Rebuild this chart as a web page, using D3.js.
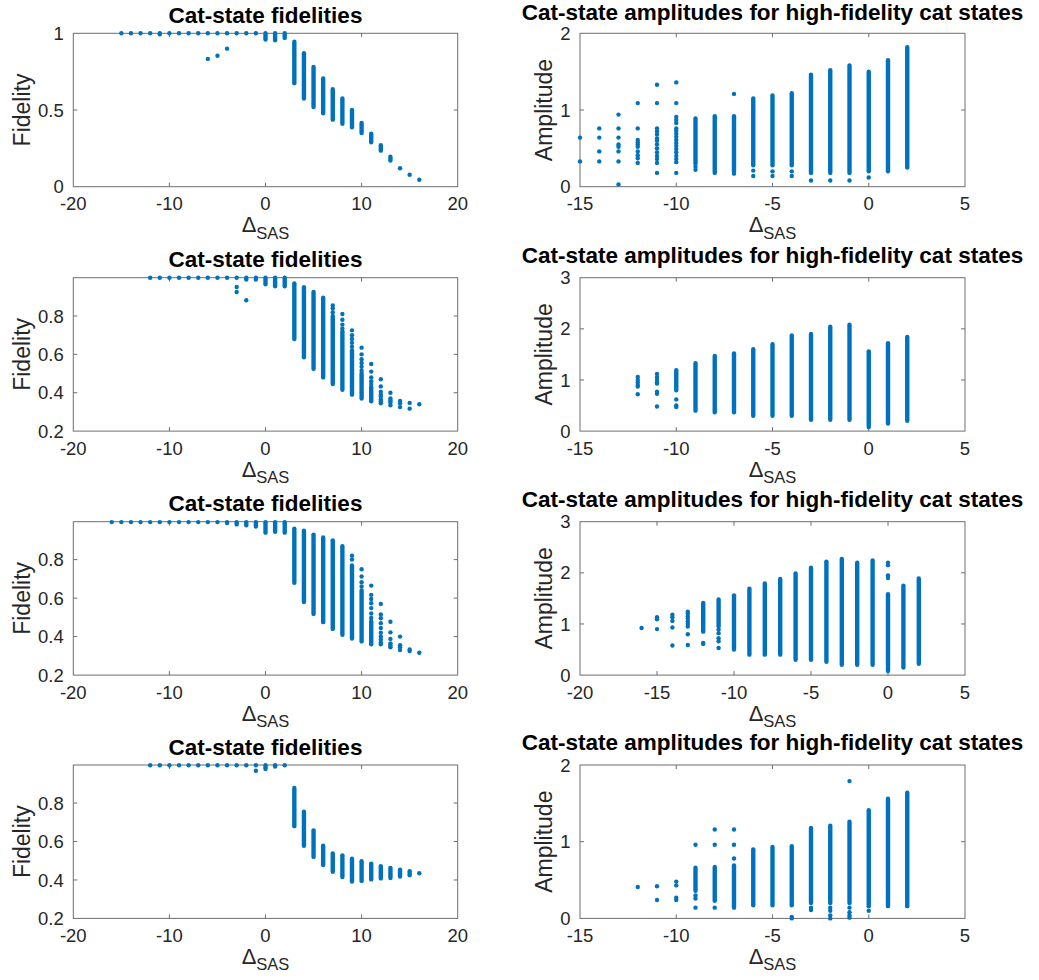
<!DOCTYPE html>
<html>
<head>
<meta charset="utf-8">
<script src="https://cdn.jsdelivr.net/npm/d3@7"></script>
<style>
  body { margin: 0; background: #fff; }
  svg { display: block; font-family: "Liberation Sans", Arial, Helvetica, sans-serif; }
</style>
</head>
<body>
<svg id="fig" width="1039" height="980"></svg>
<script>
// ---- Data: fidelity panels (left column) ----
// dots: [Δ_SAS, [fidelity values]] ; strips: dense runs [Δ_SAS, low, high]
const fidDots1 = [
  [-15, [1]], [-14, [1]], [-13, [1]], [-12, [1]], [-11, [1, 0.993]], [-10, [1]], [-9, [1]],
  [-8, [1]], [-7, [1]], [-6, [1, 0.833]], [-5, [1, 0.854]], [-4, [1, 0.9]], [-3, [1]],
  [-2, [1]], [-1, [1]], [14, [0.12]], [15, [0.078]], [16, [0.045]]
];
const fidStrips1 = [
  [0, 0.96, 1], [1, 0.955, 1], [2, 0.97, 1], [3, 0.675, 0.945], [4, 0.575, 0.87],
  [5, 0.52, 0.78], [6, 0.478, 0.705], [7, 0.437, 0.635], [8, 0.41, 0.575], [9, 0.388, 0.5],
  [10, 0.35, 0.415], [11, 0.29, 0.345], [12, 0.235, 0.27], [13, 0.17, 0.195]
];

const fidDots2 = [
  [-12, [0.999]], [-11, [0.999]], [-10, [0.999]], [-9, [0.999]], [-8, [0.999]], [-7, [0.999]],
  [-6, [0.999]], [-5, [0.999]], [-4, [0.999]], [-3, [0.999, 0.951, 0.925]],
  [-2, [0.999, 0.99, 0.882]], [-1, [0.999, 0.99]],
  [7, [0.855, 0.84, 0.82]], [8, [0.81, 0.78, 0.755, 0.735]], [9, [0.725, 0.7, 0.68, 0.66, 0.64]],
  [10, [0.635, 0.6, 0.575, 0.555, 0.535, 0.515]], [11, [0.55, 0.51, 0.48, 0.46, 0.445]],
  [12, [0.47, 0.433, 0.405, 0.39, 0.38, 0.365, 0.355, 0.345]], [13, [0.4, 0.37, 0.36, 0.35, 0.335]],
  [14, [0.357, 0.345, 0.325]], [15, [0.347, 0.317]], [16, [0.34]]
];
const fidStrips2 = [
  [0, 0.965, 0.999], [1, 0.955, 0.999], [2, 0.955, 0.999], [3, 0.68, 0.97], [4, 0.585, 0.95],
  [5, 0.525, 0.925], [6, 0.48, 0.895], [7, 0.445, 0.8], [8, 0.415, 0.72], [9, 0.39, 0.62],
  [10, 0.37, 0.5], [11, 0.355, 0.43]
];

const fidDots3 = [
  [-16, [0.995]], [-15, [0.995]], [-14, [0.995]], [-13, [0.995]], [-12, [0.995]], [-11, [0.995]],
  [-10, [0.995]], [-9, [0.995]], [-8, [0.995]], [-7, [0.995]], [-6, [0.995]], [-5, [0.995]],
  [9, [0.82, 0.8]], [10, [0.75, 0.712, 0.683, 0.66]],
  [11, [0.665, 0.617, 0.595, 0.573, 0.548, 0.52, 0.497]],
  [12, [0.57, 0.515, 0.495, 0.47, 0.445, 0.42, 0.4, 0.385, 0.37, 0.36]],
  [13, [0.477, 0.422, 0.388, 0.365, 0.355, 0.345]], [14, [0.4, 0.355, 0.345, 0.33]],
  [15, [0.333, 0.325]], [16, [0.316]]
];
const fidStrips3 = [
  [-4, 0.99, 0.995], [-3, 0.983, 0.995], [-2, 0.978, 0.995], [-1, 0.972, 0.995],
  [0, 0.94, 0.995], [1, 0.945, 0.995], [2, 0.94, 0.995], [3, 0.68, 0.96], [4, 0.58, 0.95],
  [5, 0.518, 0.93], [6, 0.475, 0.915], [7, 0.44, 0.9], [8, 0.41, 0.87], [9, 0.39, 0.77],
  [10, 0.375, 0.64], [11, 0.36, 0.48]
];

const fidDots4 = [
  [-12, [0.997]], [-11, [0.997]], [-10, [0.997]], [-9, [0.997]], [-8, [0.997]], [-7, [0.997]],
  [-6, [0.997]], [-5, [0.997]], [-4, [0.997]], [-3, [0.997]], [-2, [0.997]], [-1, [0.997, 0.968]],
  [2, [0.997]], [16, [0.435]]
];
const fidStrips4 = [
  [0, 0.977, 0.997], [1, 0.99, 0.997], [3, 0.68, 0.878], [4, 0.578, 0.755], [5, 0.52, 0.658],
  [6, 0.478, 0.578], [7, 0.443, 0.538], [8, 0.415, 0.528], [9, 0.392, 0.51], [10, 0.395, 0.497],
  [11, 0.403, 0.485], [12, 0.408, 0.472], [13, 0.41, 0.463], [14, 0.418, 0.453], [15, 0.425, 0.446]
];

// ---- Data: amplitude panels (right column) ----
const ampDots1 = [
  [-15, [0.64, 0.33]], [-14, [0.76, 0.64, 0.46, 0.33]],
  [-13, [0.94, 0.76, 0.64, 0.55, 0.52, 0.46, 0.33, 0.03]],
  [-12, [1.09, 0.76, 0.61, 0.58, 0.55, 0.52, 0.46, 0.41, 0.37, 0.31]],
  [-11, [1.33, 1.09, 0.76, 0.72, 0.68, 0.63, 0.6, 0.55, 0.5, 0.45, 0.4, 0.36, 0.31, 0.18]],
  [-10, [1.36, 1.09, 0.91, 0.87, 0.83, 0.76, 0.73, 0.69, 0.65, 0.61, 0.57, 0.53, 0.49, 0.45, 0.4, 0.36, 0.32, 0.18]],
  [-9, [0.26, 0.22]], [-8, [0.18]], [-7, [1.21, 0.17]], [-6, [0.21, 0.14]], [-5, [0.2, 0.14]],
  [-4, [0.2, 0.14]], [-3, [0.08]], [-2, [0.08]], [-1, [0.08]], [0, [0.12]]
];
const ampStrips1 = [
  [-9, 0.3, 0.89], [-8, 0.2, 0.92], [-7, 0.2, 0.92], [-6, 0.28, 1.15], [-5, 0.28, 1.19],
  [-4, 0.28, 1.22], [-3, 0.18, 1.46], [-2, 0.18, 1.52], [-1, 0.18, 1.58], [0, 0.2, 1.5],
  [1, 0.2, 1.65], [2, 0.25, 1.82]
];

const ampDots2 = [
  [-12, [1.06, 1.0, 0.95, 0.9, 0.87, 0.72]],
  [-11, [1.12, 1.06, 1.0, 0.95, 0.93, 0.77, 0.73, 0.48]],
  [-10, [0.62, 0.5, 0.47]]
];
const ampStrips2 = [
  [-10, 0.8, 1.19], [-9, 0.4, 1.33], [-8, 0.37, 1.47], [-7, 0.37, 1.52], [-6, 0.3, 1.6],
  [-5, 0.3, 1.7], [-4, 0.3, 1.87], [-3, 0.22, 1.9], [-2, 0.22, 2.04], [-1, 0.22, 2.08],
  [0, 0.08, 1.56], [1, 0.15, 1.72], [2, 0.2, 1.84]
];

const ampDots3 = [
  [-16, [0.92]], [-15, [1.13, 1.09, 0.9]], [-14, [1.18, 1.13, 1.06, 0.93, 0.58]],
  [-13, [1.24, 1.2, 1.15, 1.1, 1.05, 1.0, 0.95, 0.8, 0.59]], [-12, [0.63, 0.61]],
  [-11, [0.89, 0.82, 0.72, 0.66, 0.53]], [0, [2.2, 2.15, 1.95, 1.9]]
];
const ampStrips3 = [
  [-12, 0.85, 1.41], [-11, 0.95, 1.48], [-10, 0.5, 1.56], [-9, 0.4, 1.69], [-8, 0.4, 1.79],
  [-7, 0.4, 1.88], [-6, 0.3, 1.99], [-5, 0.3, 2.1], [-4, 0.26, 2.22], [-3, 0.2, 2.27],
  [-2, 0.2, 2.2], [-1, 0.2, 2.24], [0, 0.08, 1.58], [1, 0.15, 1.75], [2, 0.22, 1.89]
];

const ampDots4 = [
  [-12, [0.41]], [-11, [0.42, 0.24]], [-10, [0.48, 0.43, 0.27, 0.24]],
  [-9, [0.96, 0.3, 0.26, 0.14]], [-8, [1.16, 0.96, 0.14]], [-7, [1.16, 0.96, 0.78]],
  [-4, [0.02, 0.0]], [-3, [0.14, 0.11]], [-2, [0.14, 0.1, 0.04, 0.0]],
  [-1, [1.79, 0.14, 0.08, 0.04, 0.01]], [0, [0.1]]
];
const ampStrips4 = [
  [-9, 0.36, 0.66], [-8, 0.23, 0.67], [-7, 0.14, 0.69], [-6, 0.17, 0.9], [-5, 0.17, 0.93],
  [-4, 0.17, 0.94], [-3, 0.2, 1.18], [-2, 0.2, 1.21], [-1, 0.2, 1.26], [0, 0.16, 1.41],
  [1, 0.16, 1.56], [2, 0.16, 1.64]
];

// ---- Axis limits and tick labels ----
const fidXTicks = [-20, -10, 0, 10, 20];
const fidYTicksA = [0, 0.5, 1];
const fidYTicksB = [0.2, 0.4, 0.6, 0.8];
const ampXTicksA = [-15, -10, -5, 0, 5];
const ampXTicksB = [-20, -15, -10, -5, 0, 5];
const ampYTicks2 = [0, 1, 2];
const ampYTicks3 = [0, 1, 2, 3];

const titles = ["Cat-state fidelities", "Cat-state amplitudes for high-fidelity cat states"];
const yLabels = ["Fidelity", "Amplitude"];

// ---- Layout ----
const rowTop = [33.3, 277.7, 521.7, 765];
const plotH = 153.4;
const colX = [[73.3, 457.7], [580, 965]];
const yLabelX = [29.5, 551.5];
// title baseline distance above each axes box (right-hand titles sit higher)
const titleGap = (r, c) => c === 0 ? 10.5 : (r === 0 ? 13 : 15);
const markColor = "#0072BD";
const axisColor = "#6e6e6e";
const textColor = "#262626";

const panels = [
  { r: 0, c: 0, xd: [-20, 20], yd: [0, 1], xt: fidXTicks, yt: fidYTicksA, dots: fidDots1, strips: fidStrips1 },
  { r: 0, c: 1, xd: [-15, 5], yd: [0, 2], xt: ampXTicksA, yt: ampYTicks2, dots: ampDots1, strips: ampStrips1 },
  { r: 1, c: 0, xd: [-20, 20], yd: [0.2, 0.9995], xt: fidXTicks, yt: fidYTicksB, dots: fidDots2, strips: fidStrips2 },
  { r: 1, c: 1, xd: [-15, 5], yd: [0, 3], xt: ampXTicksA, yt: ampYTicks3, dots: ampDots2, strips: ampStrips2 },
  { r: 2, c: 0, xd: [-20, 20], yd: [0.2, 0.997], xt: fidXTicks, yt: fidYTicksB, dots: fidDots3, strips: fidStrips3 },
  { r: 2, c: 1, xd: [-20, 5], yd: [0, 3], xt: ampXTicksB, yt: ampYTicks3, dots: ampDots3, strips: ampStrips3 },
  { r: 3, c: 0, xd: [-20, 20], yd: [0.2, 0.998], xt: fidXTicks, yt: fidYTicksB, dots: fidDots4, strips: fidStrips4 },
  { r: 3, c: 1, xd: [-15, 5], yd: [0, 2], xt: ampXTicksA, yt: ampYTicks2, dots: ampDots4, strips: ampStrips4 }
];

const svg = d3.select("#fig");
const tickLen = 4;

panels.forEach(p => {
  const x0 = colX[p.c][0], x1 = colX[p.c][1];
  const y0 = rowTop[p.r], y1 = rowTop[p.r] + plotH;
  const xs = d3.scaleLinear().domain(p.xd).range([x0, x1]);
  const ys = d3.scaleLinear().domain(p.yd).range([y1, y0]);
  const g = svg.append("g");

  // box
  g.append("rect").attr("x", x0).attr("y", y0).attr("width", x1 - x0).attr("height", y1 - y0)
    .attr("fill", "none").attr("stroke", axisColor).attr("stroke-width", 1);

  // inward ticks, mirrored on all four sides
  p.xt.filter(v => v > p.xd[0] && v < p.xd[1]).forEach(v => {
    g.append("line").attr("x1", xs(v)).attr("x2", xs(v)).attr("y1", y1).attr("y2", y1 - tickLen)
      .attr("stroke", axisColor);
    g.append("line").attr("x1", xs(v)).attr("x2", xs(v)).attr("y1", y0).attr("y2", y0 + tickLen)
      .attr("stroke", axisColor);
  });
  p.yt.filter(v => v > p.yd[0] && v < p.yd[1]).forEach(v => {
    g.append("line").attr("x1", x0).attr("x2", x0 + tickLen).attr("y1", ys(v)).attr("y2", ys(v))
      .attr("stroke", axisColor);
    g.append("line").attr("x1", x1).attr("x2", x1 - tickLen).attr("y1", ys(v)).attr("y2", ys(v))
      .attr("stroke", axisColor);
  });

  // tick labels
  g.selectAll(".xl").data(p.xt).enter().append("text")
    .attr("x", d => xs(d)).attr("y", y1 + 23.5)
    .attr("text-anchor", "middle").attr("font-size", 18.5).attr("fill", textColor)
    .text(d => String(d));
  g.selectAll(".yl").data(p.yt).enter().append("text")
    .attr("x", x0 - 9.5).attr("y", d => ys(d)).attr("dy", "0.36em")
    .attr("text-anchor", "end").attr("font-size", 18.5).attr("fill", textColor)
    .text(d => String(d));

  // title
  g.append("text").attr("x", (x0 + x1) / 2).attr("y", y0 - titleGap(p.r, p.c))
    .attr("text-anchor", "middle").attr("font-size", 22.5).attr("font-weight", "bold")
    .attr("fill", "#000").text(titles[p.c]);

  // y label
  g.append("text").attr("transform", `translate(${yLabelX[p.c]},${(y0 + y1) / 2}) rotate(-90)`)
    .attr("text-anchor", "middle").attr("font-size", 23).attr("fill", textColor)
    .text(yLabels[p.c]);

  // x label Δ_SAS
  const xl = g.append("text").attr("x", (x0 + x1) / 2).attr("y", y1 + 45.5)
    .attr("text-anchor", "middle").attr("fill", textColor);
  xl.append("tspan").attr("font-size", 22).text("Δ");
  xl.append("tspan").attr("font-size", 16.5).attr("dy", 6.5).text("SAS");

  // dense runs of points
  g.selectAll(".strip").data(p.strips).enter().append("line")
    .attr("x1", d => xs(d[0])).attr("x2", d => xs(d[0]))
    .attr("y1", d => ys(d[1])).attr("y2", d => ys(d[2]))
    .attr("stroke", markColor).attr("stroke-width", 4.4).attr("stroke-linecap", "round");

  // individual points
  const pts = p.dots.flatMap(([x, vals]) => vals.map(v => [x, v]));
  g.selectAll(".dot").data(pts).enter().append("circle")
    .attr("cx", d => xs(d[0])).attr("cy", d => ys(d[1])).attr("r", 2.2)
    .attr("fill", markColor);
});
</script>
</body>
</html>
